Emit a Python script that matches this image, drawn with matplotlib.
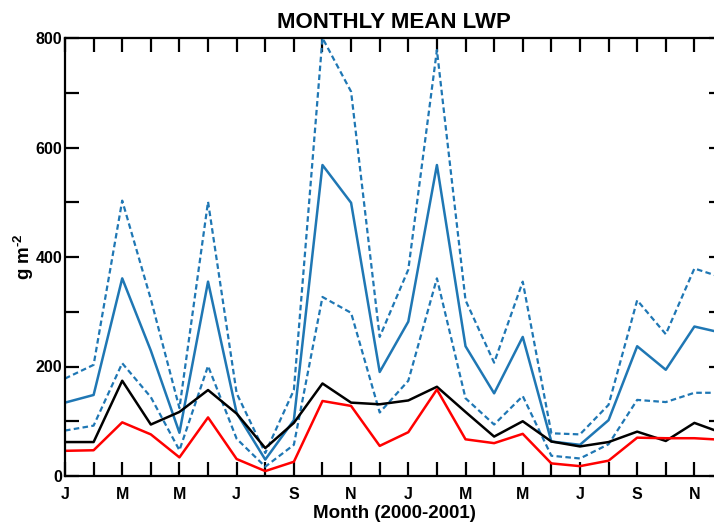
import numpy as np
import matplotlib
matplotlib.use('Agg')
import matplotlib.pyplot as plt
from matplotlib.ticker import MultipleLocator

plt.rcParams['font.family'] = ['Liberation Sans', 'DejaVu Sans']
plt.rcParams['font.weight'] = 'bold'
plt.rcParams['mathtext.fontset'] = 'custom'
plt.rcParams['mathtext.rm'] = 'Liberation Sans:bold'
plt.rcParams['mathtext.bf'] = 'Liberation Sans:bold'

# monthly values, Jan 2000 .. Dec 2001
months = np.arange(24)
tick_labels = ['J', 'M', 'M', 'J', 'S', 'N', 'J', 'M', 'M', 'J', 'S', 'N']

blue_mean = [134, 148, 361, 229, 79, 355, 115, 30, 102, 568, 499, 190,
             282, 568, 237, 151, 254, 63, 57, 102, 237, 194, 273, 261]
blue_upper = [178, 203, 503, 323, 124, 501, 151, 42, 157, 800, 702, 254,
              377, 778, 321, 207, 355, 78, 76, 130, 321, 259, 379, 362]
blue_lower = [83, 92, 206, 144, 47, 201, 68, 17, 57, 327, 298, 116,
              174, 361, 142, 94, 146, 37, 32, 58, 139, 135, 152, 152]
black_line = [62, 62, 174, 94, 117, 157, 114, 51, 97, 169, 134, 131,
              138, 163, 117, 72, 100, 63, 54, 62, 81, 64, 97, 78]
red_line = [46, 47, 98, 76, 34, 107, 31, 9, 26, 137, 128, 55,
            80, 158, 67, 60, 77, 23, 18, 28, 70, 69, 69, 66]

fig = plt.figure(figsize=(7.14, 5.23), dpi=100)
ax = fig.add_axes([65 / 714, 1 - 476 / 523, (723 - 65) / 714, (476 - 38) / 523])

blue = '#1f77b4'
dash = (0, (2.5, 1.5))
ax.plot(months, blue_upper, color=blue, lw=1.6, linestyle=dash)
ax.plot(months, blue_lower, color=blue, lw=1.6, linestyle=dash)
ax.plot(months, blue_mean, color=blue, lw=1.8)
ax.plot(months, black_line, color='black', lw=1.8)
ax.plot(months, red_line, color='#ff0000', lw=1.8)

ax.set_xlim(0, 23)
ax.set_ylim(0, 800)
ax.set_xticks(months[::2])
ax.set_xticklabels(tick_labels)
ax.xaxis.set_minor_locator(MultipleLocator(1))
ax.yaxis.set_major_locator(MultipleLocator(200))
ax.yaxis.set_minor_locator(MultipleLocator(100))

ax.tick_params(which='both', direction='in', top=True, right=True,
               length=10, width=1.6, labelsize=11.5)
ax.tick_params(axis='x', pad=8)
ax.tick_params(axis='y', pad=2)
for lab in ax.get_xticklabels() + ax.get_yticklabels():
    lab.set_fontweight('bold')
for sp in ax.spines.values():
    sp.set_linewidth(1.6)

ax.set_title('MONTHLY MEAN LWP', fontsize=16, fontweight='bold', pad=7)
ax.set_xlabel('Month (2000-2001)', fontsize=13.5, fontweight='bold', labelpad=2)
ax.set_ylabel(r'g m$^{\text{-2}}$', fontsize=13.5, fontweight='bold')
ax.yaxis.set_label_coords(-0.044, 0.5)

fig.savefig('out.png', dpi=100)
